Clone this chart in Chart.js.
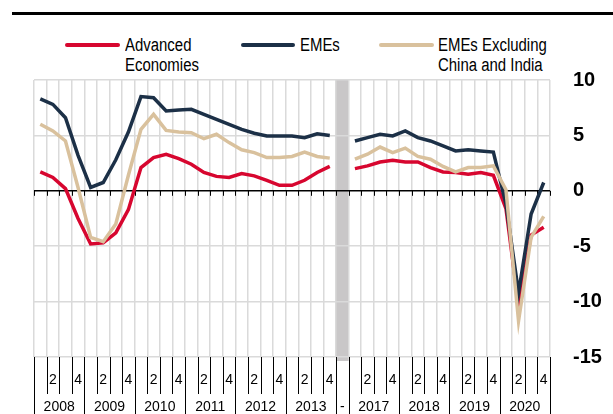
<!DOCTYPE html>
<html>
<head>
<meta charset="utf-8">
<script src="https://cdn.jsdelivr.net/npm/chart.js@4"></script>
<style>
  body { margin: 0; background: #fff; }
  #wrap { position: relative; width: 613px; height: 414px; overflow: hidden; }
  #rule { position: absolute; left: 12px; top: 12px; width: 601px; height: 3px; background: #000; }
  .key { position: absolute; top: 43px; height: 4px; border-radius: 2px; }
  .lbl { position: absolute; top: 35px; font: 18px "Liberation Sans", Arial, sans-serif; line-height: 20px; color: #000;
         white-space: nowrap; transform: scaleX(0.83); transform-origin: 0 0; }
  canvas { position: absolute; left: 0; top: 0; }
</style>
</head>
<body>
<div id="wrap">
  <div id="rule"></div>
  <div class="key" style="left:65px;width:55px;background:#d7062f"></div>
  <div class="lbl" style="left:125px">Advanced<br>Economies</div>
  <div class="key" style="left:241px;width:54px;background:#1c3047"></div>
  <div class="lbl" style="left:300px">EMEs</div>
  <div class="key" style="left:379px;width:55px;background:#d9c19d"></div>
  <div class="lbl" style="left:438px">EMEs Excluding<br>China and India</div>
  <canvas id="chart" width="613" height="414"></canvas>
</div>
<script>
// year groups on the axis ('-' is the one-slot break between 2013 and 2017)
const years = ['2008', '2009', '2010', '2011', '2012', '2013', '-', '2017', '2018', '2019', '2020'];
const quarterTicks = ['', '2', '', '4'];

// growth, % (null = break)
const advanced = [1.7, 1.2, 0.2, -2.5, -4.8, -4.7, -3.8, -1.7, 2.1, 3.0, 3.3, 2.9, 2.4, 1.65, 1.3, 1.2,
  1.55, 1.35, 0.95, 0.5, 0.5, 0.95, 1.65, 2.2, null,
  2.0, 2.25, 2.6, 2.75, 2.6, 2.6, 2.1, 1.7, 1.65, 1.5, 1.65, 1.4, -1.6, -10.3, -4.0, -3.3];
const emes = [8.3, 7.8, 6.6, 3.2, 0.3, 0.75, 2.8, 5.3, 8.5, 8.4, 7.2, 7.3, 7.35, 6.9, 6.45, 6.0,
  5.55, 5.2, 4.95, 4.95, 4.95, 4.8, 5.15, 5.0, null,
  4.5, 4.8, 5.1, 4.95, 5.4, 4.8, 4.5, 4.05, 3.6, 3.7, 3.6, 3.5, -1.2, -9.2, -2.1, 0.75];
const emesExCI = [6.0, 5.4, 4.5, 0.3, -4.2, -4.6, -3.0, 1.4, 5.55, 6.9, 5.45, 5.3, 5.25, 4.7, 5.1, 4.35,
  3.7, 3.45, 3.0, 3.0, 3.1, 3.5, 3.1, 2.95, null,
  2.85, 3.3, 3.95, 3.45, 3.85, 3.1, 2.85, 2.2, 1.7, 2.1, 2.1, 2.25, 0.1, -11.75, -4.2, -2.3];

const yTicks = [-15, -10, -5, 0, 5, 10];

// build category list + per-category tick text
const labels = [];
const qText = [];
const groups = []; // [startIndex, count, yearText]
years.forEach(y => {
  if (y === '-') {
    groups.push([labels.length, 1, y]);
    labels.push('-');
    qText.push('');
  } else {
    groups.push([labels.length, 4, y]);
    quarterTicks.forEach((q, k) => { labels.push(y + ' Q' + (k + 1)); qText.push(q); });
  }
});
const gapIndex = labels.indexOf('-');

const axisPlugin = {
  id: 'axisStuff',
  beforeDraw(chart) {
    const { ctx, chartArea, scales: { x } } = chart;
    const w = x.getPixelForValue(1) - x.getPixelForValue(0);
    const cx = x.getPixelForValue(gapIndex);
    ctx.save();
    ctx.fillStyle = '#c9c7c8';
    ctx.fillRect(cx - w / 2, chartArea.top, w, chartArea.bottom - chartArea.top + 4);
    ctx.restore();
  },
  beforeDatasetsDraw(chart) {
    const { ctx, scales: { x, y } } = chart;
    const w = x.getPixelForValue(1) - x.getPixelForValue(0);
    const y0 = y.getPixelForValue(0);
    ctx.save();
    ctx.strokeStyle = '#000';
    ctx.lineWidth = 1;
    for (let i = 0; i <= labels.length; i++) {
      const px = Math.round(x.getPixelForValue(0) - w / 2 + i * w) + 0.5;
      ctx.beginPath();
      ctx.moveTo(px, y0);
      ctx.lineTo(px, y0 + 5);
      ctx.stroke();
    }
    ctx.restore();
  },
  afterDraw(chart) {
    const { ctx, chartArea, scales: { x } } = chart;
    const w = x.getPixelForValue(1) - x.getPixelForValue(0);
    const b = chartArea.bottom;
    ctx.save();
    ctx.strokeStyle = '#000';
    ctx.lineWidth = 1;
    ctx.fillStyle = '#000';
    ctx.textAlign = 'center';
    ctx.textBaseline = 'middle';
    ctx.font = '14px "Liberation Sans", Arial, sans-serif';
    const starts = new Set(groups.map(g => g[0]));
    for (let i = 0; i <= labels.length; i++) {
      const px = Math.round(x.getPixelForValue(0) - w / 2 + i * w) + 0.5;
      const long = starts.has(i) || i === labels.length;
      ctx.beginPath();
      ctx.moveTo(px, b);
      ctx.lineTo(px, long ? 414 : 394);
      ctx.stroke();
    }
    qText.forEach((t, i) => {
      if (t) ctx.fillText(t, x.getPixelForValue(i), 380);
    });
    groups.forEach(([s, n, t]) => {
      const mid = (x.getPixelForValue(s) + x.getPixelForValue(s + n - 1)) / 2;
      ctx.fillText(t, mid, 407);
    });
    ctx.restore();
  }
};

const ctx = document.getElementById('chart');
new Chart(ctx, {
  type: 'line',
  data: {
    labels: labels,
    datasets: [
      { label: 'Advanced Economies', data: advanced, borderColor: '#d7062f', order: 2 },
      { label: 'EMEs', data: emes, borderColor: '#1c3047', order: 1 },
      { label: 'EMEs Excluding China and India', data: emesExCI, borderColor: '#d9c19d', order: 0 }
    ]
  },
  options: {
    responsive: false,
    animation: false,
    spanGaps: false,
    datasets: {
      line: { borderWidth: 3.5, pointRadius: 0, tension: 0, fill: false }
    },
    layout: { padding: { top: 80, left: 34, right: 0, bottom: 0 } },
    plugins: { legend: { display: false }, tooltip: { enabled: false } },
    scales: {
      x: {
        offset: true,
        grid: { offset: true, color: '#dadada', lineWidth: 1.5, drawTicks: false },
        border: { display: false },
        ticks: { display: false },
        afterFit(s) { s.height = 57; }
      },
      y: {
        position: 'right',
        min: -15,
        max: 10,
        afterBuildTicks(s) { s.ticks = yTicks.map(v => ({ value: v })); },
        ticks: {
          color: '#000',
          padding: 23,
          crossAlign: 'near',
          font: { family: '"Liberation Sans", Arial, sans-serif', size: 20, weight: 'bold' }
        },
        grid: {
          drawTicks: false,
          color: c => c.tick && c.tick.value === 0 ? '#000' : '#dadada',
          lineWidth: 1.5
        },
        border: { display: false },
        afterFit(s) { s.width = 63; }
      }
    }
  },
  plugins: [axisPlugin]
});
</script>
</body>
</html>
